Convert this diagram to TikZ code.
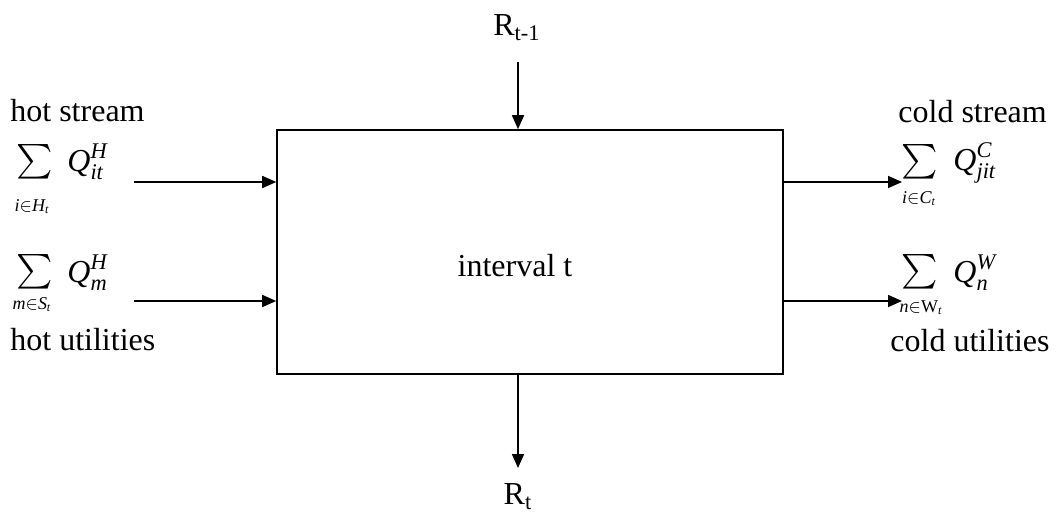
\documentclass[tikz,border=0pt]{standalone}
\usepackage{amsmath}
\usepackage{fontspec}
\setmainfont{Liberation Serif}
\usetikzlibrary{arrows.meta}
\newcommand{\itx}[1]{\text{\itshape #1}}
\begin{document}
\begin{tikzpicture}[x=0.5pt,y=-0.5pt,
  lab/.style={font=\fontsize{16}{18}\selectfont, inner sep=0pt},
  sumsym/.style={font=\fontsize{18}{18}\selectfont, inner sep=0pt},
  sublab/.style={font=\fontsize{9}{10}\selectfont, inner sep=0pt},
  qlab/.style={font=\fontsize{16}{18}\selectfont, inner sep=0pt, anchor=west},
  arr/.style={-{Triangle[length=7pt,width=6pt]}, line width=0.8pt},
  boxst/.style={draw, line width=0.8pt, minimum width=253pt, minimum height=122pt, inner sep=0pt}]
\useasboundingbox (0,0) rectangle (1063,513);
% box
\node[boxst] (box) at (530,252) {};
\node[lab] (int) at (515,266) {interval t};
% top and bottom
\node[lab] (rt1) at (517,28) {R\textsubscript{t-1}};
\coordinate (ttop) at (518,62);
\draw[arr] (ttop) -- (ttop |- box.north);
\node[lab] (rt) at (518,497) {R\textsubscript{t}};
\coordinate (bbot) at (518,468);
\draw[arr] (bbot |- box.south) -- (bbot);
% left
\node[lab, anchor=west] (hs) at (10,111) {hot stream};
\node[sumsym] (s1) at (35,162) {$\textstyle\sum$};
\node[sublab] (s1sub) at (32,207) {$\itx{i}{\in}\itx{H}_{\itx{t}}$};
\node[qlab] (q1) at (67,162) {$\itx{Q}^{\itx{H}}_{\itx{it}}$};
\node[sumsym] (s2) at (35,272) {$\textstyle\sum$};
\node[sublab] (s2sub) at (32,305) {$\itx{m}{\in}\itx{S}_{\itx{t}}$};
\node[qlab] (q2) at (67,273) {$\itx{Q}^{\itx{H}}_{\itx{m}}$};
\node[lab, anchor=west] (hu) at (10,340) {hot utilities};
\coordinate (l1) at (134,182);
\coordinate (l2) at (134,301);
\draw[arr] (l1) -- (l1 -| box.west);
\draw[arr] (l2) -- (l2 -| box.west);
% right
\node[lab, anchor=west] (cs) at (898,112) {cold stream};
\node[sumsym] (s3) at (920,162) {$\textstyle\sum$};
\node[sublab] (s3sub) at (919,199) {$\itx{i}{\in}\itx{C}_{\itx{t}}$};
\node[qlab] (q3) at (953,163) {$\itx{Q}^{\itx{C}}_{\itx{jit}}$};
\node[sumsym] (s4) at (920,272) {$\textstyle\sum$};
\node[sublab] (s4sub) at (921,308) {$\itx{n}{\in}\text{W}_{\itx{t}}$};
\node[qlab] (q4) at (953,273) {$\itx{Q}^{\itx{W}}_{\itx{n}}$};
\node[lab, anchor=west] (cu) at (890,341) {cold utilities};
\coordinate (r1) at (902,182);
\coordinate (r2) at (902,301);
\draw[arr] (r1 -| box.east) -- (r1);
\draw[arr] (r2 -| box.east) -- (r2);
\end{tikzpicture}
\end{document}
